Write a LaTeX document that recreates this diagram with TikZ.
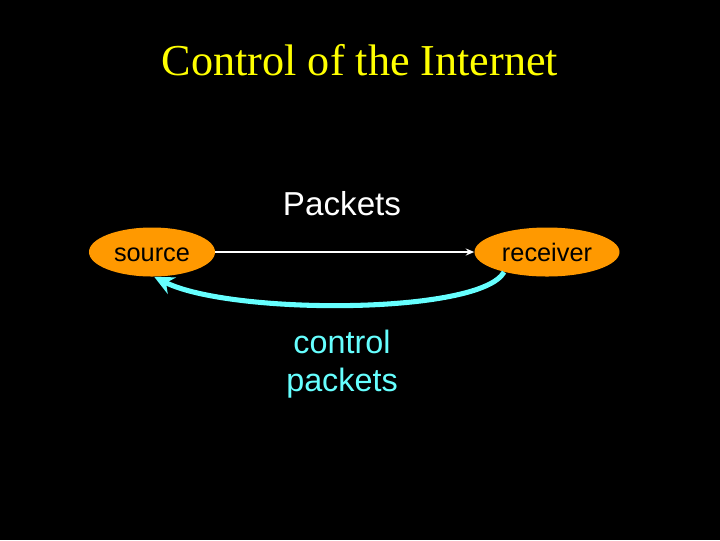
\documentclass[tikz,border=0pt]{standalone}
\usepackage{fontspec}
\setmainfont{Liberation Serif}
\setsansfont{Liberation Sans}
\usepackage{tikz}
\usetikzlibrary{arrows.meta,positioning,shapes.geometric}
\usepackage{xcolor}
\definecolor{hostorange}{HTML}{FF9900}
\definecolor{ctrlcyan}{HTML}{66FFFF}
\definecolor{titleyellow}{HTML}{FFFF00}

\begin{document}
\begin{tikzpicture}[x=0.025cm, y=-0.025cm, >=Stealth,
  host/.style={ellipse, fill=hostorange, draw=none, inner sep=0pt,
    minimum height=1.225cm, text height=18pt, text depth=4pt,
    font=\sffamily\fontsize{18}{20}\selectfont, text=black},
  datalink/.style={white, line width=1.4pt, -{Stealth[length=6pt,width=5pt]}},
  ctrllink/.style={ctrlcyan, line width=3.6pt, -{Stealth[length=14pt,width=13pt]}}]

% Background
\fill[black] (0,0) rectangle (720,540);
\useasboundingbox (0,0) rectangle (720,540);

% Title
\node[titleyellow, font=\rmfamily\fontsize{31.4}{36}\selectfont] (title) at (360,60) {Control of the Internet};

% Hosts
\node[host, minimum width=3.15cm] (src) at (152,252) {source};
\node[host, minimum width=3.625cm] (rcv) at (547,252) {receiver};

% Labels
\node[white, font=\sffamily\fontsize{23.6}{27}\selectfont] (pkts) at (342,204) {Packets};
\node[ctrlcyan, font=\sffamily\fontsize{23}{26.5}\selectfont, align=center] (ctrl) at (342,364) {control\\packets};

% Data packets
\draw[datalink] (src.east) -- (rcv.west);

% Control packets back to the source
\draw[ctrllink] (rcv.205) .. controls (480,315) and (230,315) .. (src.275);

\end{tikzpicture}
\end{document}
